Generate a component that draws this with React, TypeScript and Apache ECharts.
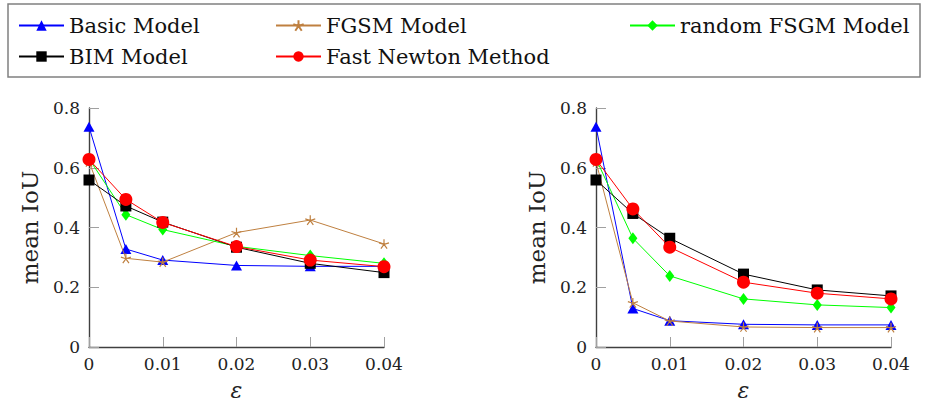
import React, { useEffect, useRef } from "react";
import * as echarts from "echarts";

const epsilons = [0, 0.005, 0.01, 0.02, 0.03, 0.04];
const seriesNames = ["Basic Model", "FGSM Model", "random FSGM Model", "BIM Model", "Fast Newton Method"];
const xTicks = [0, 0.01, 0.02, 0.03, 0.04];
const yTicks = [0, 0.2, 0.4, 0.6, 0.8];

// left panel
const leftBasic = [0.737, 0.328, 0.291, 0.273, 0.27, 0.27];
const leftFGSM = [0.62, 0.297, 0.284, 0.383, 0.425, 0.345];
const leftRandom = [0.63, 0.443, 0.393, 0.337, 0.306, 0.28];
const leftBIM = [0.559, 0.472, 0.418, 0.334, 0.28, 0.249];
const leftNewton = [0.628, 0.494, 0.417, 0.336, 0.291, 0.269];

// right panel
const rightBasic = [0.737, 0.129, 0.088, 0.076, 0.074, 0.074];
const rightFGSM = [0.62, 0.148, 0.087, 0.067, 0.065, 0.065];
const rightRandom = [0.63, 0.364, 0.238, 0.161, 0.141, 0.132];
const rightBIM = [0.559, 0.447, 0.364, 0.244, 0.191, 0.171];
const rightNewton = [0.628, 0.462, 0.334, 0.217, 0.18, 0.161];

const FONT = "DejaVu Serif";
const colors = ["#0000FF", "#BF8040", "#00FF00", "#000000", "#FF0000"];
const STAR =
  "path://M10 10 L10 0 M10 10 L19.51 6.91 M10 10 L0.49 6.91 M10 10 L4.12 18.09 M10 10 L15.88 18.09";
const symbols = ["triangle", STAR, "diamond", "rect", "circle"];
const symbolSizes: any[] = [[11, 10], 10, [9, 12], 11, 13];

const pair = (ys: number[]) => epsilons.map((x, i) => [x, ys[i]]);

export default function App() {
  const ref = useRef<HTMLDivElement>(null);
  useEffect(() => {
    if (!ref.current) return;
    const chart = echarts.init(ref.current, undefined, { renderer: "svg" });
    const panels = [
      [leftBasic, leftFGSM, leftRandom, leftBIM, leftNewton],
      [rightBasic, rightFGSM, rightRandom, rightBIM, rightNewton],
    ];
    const series: any[] = [];
    panels.forEach((panel, p) => {
      panel.forEach((ys, i) => {
        const isStar = i === 1;
        series.push({
          type: "line",
          name: seriesNames[i],
          xAxisIndex: p,
          yAxisIndex: p,
          data: pair(ys),
          symbol: symbols[i],
          symbolSize: symbolSizes[i],
          symbolKeepAspect: true,
          showAllSymbol: true,
          clip: false,
          lineStyle: { color: colors[i], width: 1 },
          itemStyle: isStar
            ? { color: "transparent", borderColor: colors[i], borderWidth: 1.2 }
            : { color: colors[i], borderWidth: 0 },
          emphasis: { disabled: true },
          z: 2 + i,
        });
      });
    });

    const gridLefts = [89, 596];
    const legendPos = [
      { left: 18, top: 15 },
      { left: 275, top: 15 },
      { left: 629, top: 15 },
      { left: 18, top: 46 },
      { left: 275, top: 46 },
    ];

    const axisLine = { show: true, lineStyle: { color: "#404040", width: 1.4 } };
    const axisTick = { show: true, inside: true, length: 10, lineStyle: { color: "#a0a0a0", width: 1 } };

    chart.setOption({
      animation: false,
      backgroundColor: "#ffffff",
      textStyle: { fontFamily: FONT },
      grid: gridLefts.map((l) => ({
        left: l,
        top: 108,
        width: 295,
        height: 239,
        containLabel: false,
        outerBoundsMode: "none",
      })),
      xAxis: gridLefts.map((_, i) => ({
        type: "value",
        gridIndex: i,
        min: xTicks[0],
        max: xTicks[xTicks.length - 1],
        interval: 0.01,
        name: "ε",
        nameLocation: "middle",
        nameGap: 32,
        nameTextStyle: { fontFamily: FONT, fontSize: 22, fontStyle: "italic", color: "#222" },
        axisLine,
        axisTick,
        splitLine: { show: false },
        axisLabel: { fontFamily: FONT, fontSize: 17, color: "#222", margin: 8 },
      })),
      yAxis: gridLefts.map((_, i) => ({
        type: "value",
        gridIndex: i,
        min: yTicks[0],
        max: yTicks[yTicks.length - 1],
        interval: 0.2,
        name: "mean IoU",
        nameLocation: "middle",
        nameRotate: 90,
        nameGap: 48,
        nameTextStyle: { fontFamily: FONT, fontSize: 23, color: "#222" },
        axisLine,
        axisTick,
        splitLine: { show: false },
        axisLabel: { fontFamily: FONT, fontSize: 17, color: "#222", margin: 9 },
      })),
      legend: seriesNames.map((n, i) => ({
        data: [n],
        left: legendPos[i].left,
        top: legendPos[i].top,
        padding: 0,
        itemWidth: 45,
        itemHeight: 13,
        itemGap: 8,
        selectedMode: false,
        textStyle: { fontFamily: FONT, fontSize: 21, color: "#111" },
      })),
      graphic: [
        {
          type: "rect",
          shape: { x: 8, y: 4, width: 912, height: 73 },
          style: { fill: "none", stroke: "#808080", lineWidth: 1.5 },
          silent: true,
        },
      ],
      series,
    });
    return () => chart.dispose();
  }, []);
  return (
    <div
      ref={ref}
      style={{ position: "fixed", left: 0, top: 0, width: 925, height: 401 }}
    />
  );
}
